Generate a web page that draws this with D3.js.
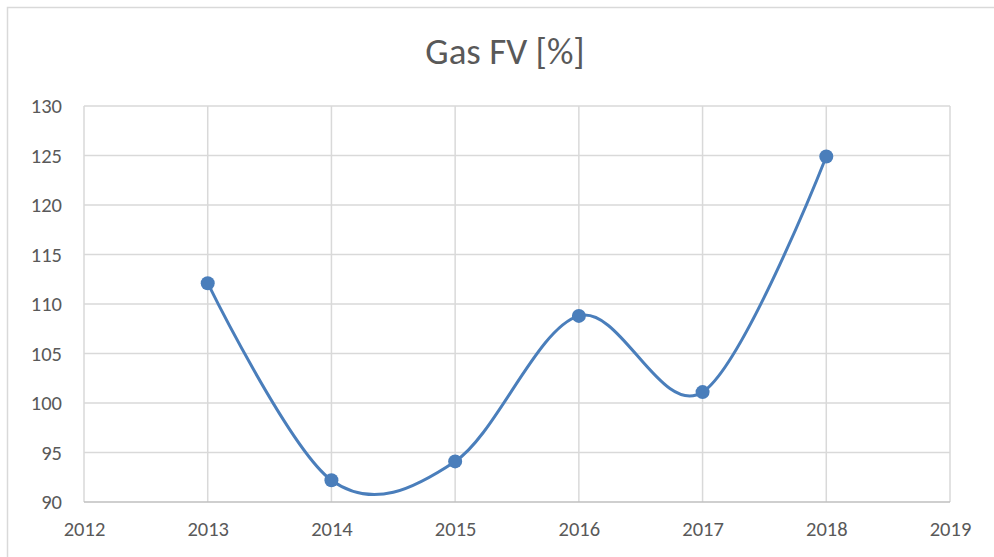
<!DOCTYPE html>
<html>
<head>
<script src="https://d3js.org/d3.v7.min.js"></script>
<style>
  body { margin: 0; background: #fff; }
  text { font-family: Calibri, Carlito, "Liberation Sans", "Open Sans", sans-serif; fill: #595959; }
</style>
</head>
<body>
<script>
var years = [2013, 2014, 2015, 2016, 2017, 2018];
var values = [112.1, 92.2, 94.1, 108.8, 101.1, 124.9];
var xTicks = [2012, 2013, 2014, 2015, 2016, 2017, 2018, 2019];
var yTicks = [90, 95, 100, 105, 110, 115, 120, 125, 130];
var title = "Gas FV [%]";

var w = 994, h = 557;
var mLeft = 84, mRight = 950, mTop = 106, mBottom = 502;

var svg = d3.select("body").append("svg").attr("width", w).attr("height", h);

// chart frame
svg.append("path").attr("d", "M7.5," + h + "V7.5H" + w)
  .attr("fill", "none").attr("stroke", "#d9d9d9").attr("stroke-width", 1.5);

var x = d3.scaleLinear().domain([2012, 2019]).range([mLeft, mRight]);
var y = d3.scaleLinear().domain([90, 130]).range([mBottom, mTop]);

// gridlines
svg.append("g").selectAll("line").data(yTicks.slice(1)).enter().append("line")
  .attr("x1", mLeft).attr("x2", mRight)
  .attr("y1", function(d){ return y(d); }).attr("y2", function(d){ return y(d); })
  .attr("stroke", "#d9d9d9").attr("stroke-width", 1.5);
svg.append("g").selectAll("line").data(xTicks).enter().append("line")
  .attr("x1", function(d){ return x(d); }).attr("x2", function(d){ return x(d); })
  .attr("y1", mTop).attr("y2", mBottom)
  .attr("stroke", "#d9d9d9").attr("stroke-width", 1.5);

// axis line
svg.append("line").attr("x1", mLeft).attr("x2", mRight).attr("y1", mBottom).attr("y2", mBottom)
  .attr("stroke", "#bfbfbf").attr("stroke-width", 1.5);

var xAxis = d3.axisBottom(x).tickValues(xTicks).tickFormat(d3.format("d")).tickSize(0).tickPadding(19);
var gx = svg.append("g").attr("transform", "translate(0," + mBottom + ")").call(xAxis);
gx.select(".domain").remove();
gx.selectAll("text").style("font-size", "20.5px").attr("fill", "#595959");

var yAxis = d3.axisLeft(y).tickValues(yTicks).tickSize(0).tickPadding(22);
var gy = svg.append("g").attr("transform", "translate(" + mLeft + ",0)").call(yAxis);
gy.select(".domain").remove();
gy.selectAll("text").style("font-size", "20.5px").attr("fill", "#595959");

var data = years.map(function(d, i){ return {year: d, v: values[i]}; });

// excel-like smoothing
var line = d3.line().curve(d3.curveCatmullRom.alpha(0))
  .x(function(d){ return x(d.year); }).y(function(d){ return y(d.v); });

svg.append("path").attr("d", line(data)).attr("fill", "none")
  .attr("stroke", "#4a7ebb").attr("stroke-width", 3);

svg.append("g").selectAll("circle").data(data).enter().append("circle")
  .attr("cx", function(d){ return x(d.year); }).attr("cy", function(d){ return y(d.v); })
  .attr("r", 7).attr("fill", "#4a7ebb");

svg.append("text").attr("x", 505).attr("y", 64)
  .attr("text-anchor", "middle").style("font-size", "37px").text(title);
</script>
</body>
</html>
